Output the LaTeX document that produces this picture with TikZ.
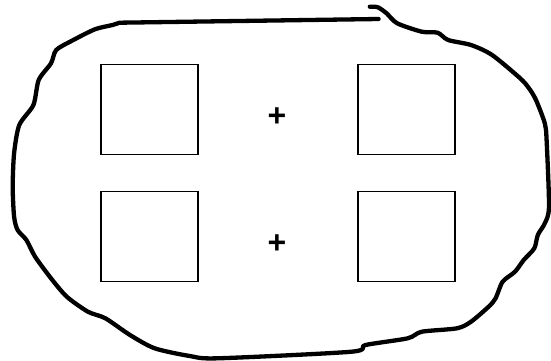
\documentclass[tikz,border=0pt]{standalone}
\usepackage{fontspec}
\setmainfont{Liberation Sans}
\usepackage{tikz}
\usetikzlibrary{positioning}

\begin{document}
\begin{tikzpicture}[
    x=1pt, y=-1pt,
    node distance=37pt and 160pt,
    sq/.style={draw, line width=1.7pt, minimum width=97pt, minimum height=90pt, inner sep=0pt, outer sep=0pt},
    plus/.style={font=\fontsize{32}{32}\selectfont\bfseries, inner sep=0pt},
    blob/.style={line width=4.3pt, line cap=round, line join=round}
]
\useasboundingbox (0,0) rectangle (551,360);

\node[sq] (tl) at (149.2,109.5) {};
\node[sq, right=of tl] (tr) {};
\node[sq, below=of tl] (bl) {};
\node[sq, below=of tr] (br) {};

\node[plus] (ptop) at (277,116.7) {+};
\node[plus] (pbot) at (277,244.3) {+};

% outline
\draw[blob] (378.6,19) -- (119.5,22.7)
  plot[smooth, tension=0.45] coordinates {(119.5,22.7) (112.5,25) (94.9,29.3) (72,40.7) (56.2,50) (51,63.3)
  (38.7,80) (33.4,105) (19.3,125) (14.1,153.3) (12.7,186.7) (14.1,216.7) (17.6,230) (26.4,240)
  (35.1,256.7) (51,278.3) (66.8,296.7) (87.9,311.7) (105.4,318.3) (130,335) (154.7,348.3)
  (189.8,356) (217.9,358.3) (351.5,351.7) (365.6,345) (407.7,338.3) (421.8,331.7) (457,328.3)
  (471,321.7) (488.6,306.7) (495.6,298.3) (502.6,281.7) (515,271.7) (523.7,260) (534.3,248.3)
  (537.8,235) (544.8,223.3) (549,206.7) (546.6,140) (544.8,123.3) (536,100) (529,88.3)
  (520.2,78.3) (492.1,55) (471,45) (448.1,40) (437.6,32.7) (421.8,31.7) (397.2,23.3)
  (386.6,13.3) (377.9,7.3) (369.8,6.7)};
\end{tikzpicture}
\end{document}
